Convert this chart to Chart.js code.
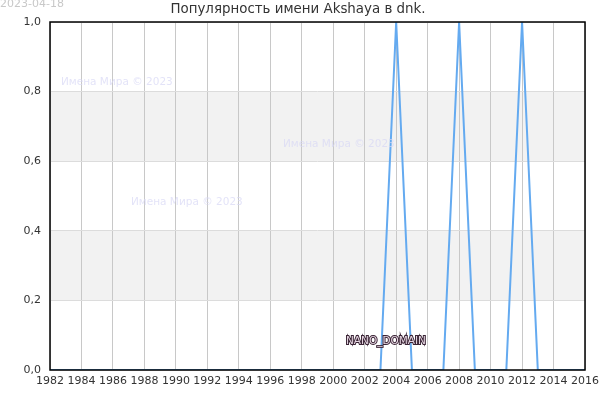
<!DOCTYPE html>
<html>
<head>
<meta charset="utf-8">
<script src="https://cdn.jsdelivr.net/npm/chart.js@4"></script>
<style>
html,body{margin:0;padding:0;background:#fff;}
canvas{display:block;}
</style>
</head>
<body>
<canvas id="c" width="600" height="400"></canvas>
<script>
const years = [1982,1983,1984,1985,1986,1987,1988,1989,1990,1991,1992,1993,1994,1995,1996,1997,1998,1999,2000,2001,2002,2003,2004,2005,2006,2007,2008,2009,2010,2011,2012,2013,2014,2015,2016];
const values = [0,0,0,0,0,0,0,0,0,0,0,0,0,0,0,0,0,0,0,0,0,0,1,0,0,0,1,0,0,0,1,0,0,0,0];
const titleText = 'Популярность имени Akshaya в dnk.';
const dateText = '2023-04-18';
const watermarkText = 'Имена Мира © 2023';
const brandText = 'NANO_DOMAIN';
const bands = [[0.2,0.4],[0.6,0.8]];

const FONT = '"DejaVu Sans", sans-serif';

const decor = {
  id: 'decor',
  beforeDraw(chart) {
    const ctx = chart.ctx, a = chart.chartArea, y = chart.scales.y;
    ctx.save();
    ctx.fillStyle = '#fff';
    ctx.fillRect(0,0,chart.width,chart.height);
    ctx.fillStyle = '#f2f2f2';
    bands.forEach(([lo,hi]) => {
      const t = y.getPixelForValue(hi), b = y.getPixelForValue(lo);
      ctx.fillRect(a.left, t, a.right - a.left, b - t);
    });
    ctx.restore();
  },
  afterDraw(chart) {
    const ctx = chart.ctx, a = chart.chartArea;
    ctx.save();
    ctx.strokeStyle = '#000';
    ctx.lineWidth = 1.5;
    ctx.strokeRect(a.left, a.top, a.right - a.left, a.bottom - a.top);
    ctx.font = '10.5px ' + FONT;
    ctx.fillStyle = 'rgba(215,215,245,0.7)';
    ctx.textBaseline = 'middle';
    ctx.textAlign = 'left';
    ctx.fillText(watermarkText, 61, 82);
    ctx.fillText(watermarkText, 283, 144);
    ctx.fillText(watermarkText, 131, 202);
    ctx.font = '10.5px ' + FONT;
    ctx.lineWidth = 2;
    ctx.strokeStyle = '#3a2435';
    ctx.strokeText(brandText, 346, 341);
    ctx.fillStyle = '#e6d6e2';
    ctx.fillText(brandText, 346, 341);
    ctx.font = '13.4px ' + FONT;
    ctx.fillStyle = '#333';
    ctx.textAlign = 'center';
    ctx.fillText(titleText, 298, 10);
    ctx.font = '11px ' + FONT;
    ctx.fillStyle = '#c8c8c8';
    ctx.textAlign = 'left';
    ctx.fillText(dateText, 0, 4);
    ctx.restore();
  }
};

new Chart(document.getElementById('c'), {
  type: 'line',
  data: {
    datasets: [{
      data: years.map((yr,i) => ({x: yr, y: values[i]})),
      borderColor: '#64aaf0',
      borderWidth: 2,
      pointRadius: 0,
      tension: 0,
      fill: false
    }]
  },
  options: {
    responsive: false,
    animation: false,
    layout: { padding: { top: 22, right: 15, left: 0, bottom: 0 } },
    plugins: { legend: { display: false }, tooltip: { enabled: false }, title: { display: false } },
    scales: {
      x: {
        type: 'linear',
        min: 1982, max: 2016,
        afterFit(s) { s.height = 30; s.paddingRight = 0; },
        grid: { color: '#c8c8c8', drawTicks: false, lineWidth: 1 },
        border: { display: false },
        ticks: {
          stepSize: 2,
          padding: 5,
          color: '#333',
          font: { family: FONT, size: 11 },
          maxRotation: 0,
          autoSkip: false,
          callback: v => String(v)
        }
      },
      y: {
        min: 0, max: 1,
        afterFit(s) { s.width = 50; },
        grid: { color: '#dcdcdc', drawTicks: false, lineWidth: 1 },
        border: { display: false },
        ticks: {
          stepSize: 0.2,
          padding: 9,
          color: '#333',
          font: { family: FONT, size: 11 },
          callback: v => v.toFixed(1).replace('.', ',')
        }
      }
    }
  },
  plugins: [decor]
});
</script>
</body>
</html>
